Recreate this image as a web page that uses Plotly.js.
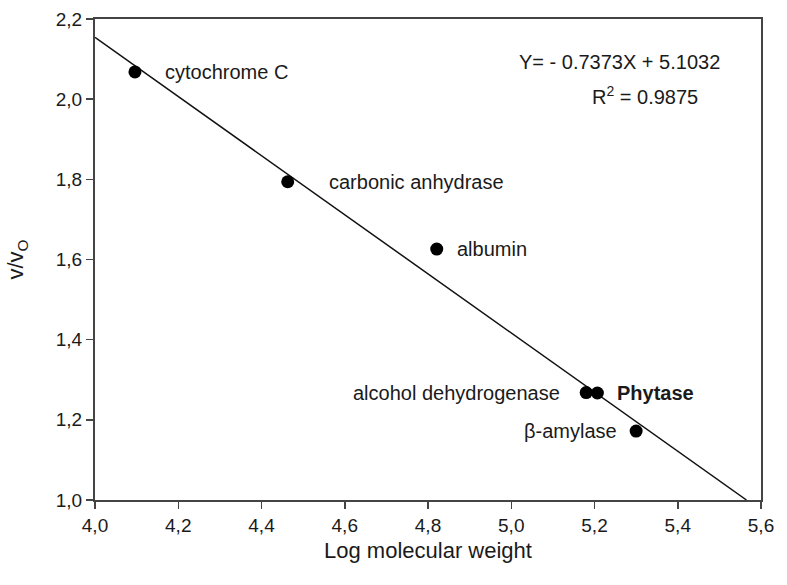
<!DOCTYPE html>
<html>
<head>
<meta charset="utf-8">
<script src="https://cdn.plot.ly/plotly-3.0.1.min.js"></script>
<style>html,body{margin:0;padding:0;background:#fff;}#chart{width:787px;height:585px;}</style>
</head>
<body>
<div id="chart"></div>
<script>
const proteins = ["cytochrome C", "carbonic anhydrase", "albumin", "alcohol dehydrogenase", "Phytase", "β-amylase"];
const logMW = [4.096, 4.463, 4.821, 5.180, 5.207, 5.300];
const vv0 = [2.068, 1.794, 1.626, 1.268, 1.267, 1.172];
const slope = -0.7373;
const intercept = 5.1032;
const r2 = 0.9875;
const fitX = [4.0, (1.0 - intercept) / slope];
const fitY = fitX.map(x => slope * x + intercept);

const FONT = 'Liberation Sans, Arial, sans-serif';
const labelSide = ["right", "right", "right", "left", "right", "left"];
const labelShift = [28, 39, 18, -24, 18, -17];

const annotations = proteins.map((p, i) => ({
  x: logMW[i], y: vv0[i], xref: 'x', yref: 'y',
  text: p === "Phytase" ? "<b>" + p + "</b>" : p,
  showarrow: false,
  xanchor: labelSide[i] === "right" ? 'left' : 'right',
  yanchor: 'middle',
  xshift: labelShift[i],
  font: {family: FONT, size: 20, color: '#1a1a1a'}
}));
annotations.push({
  xref: 'paper', yref: 'paper', x: 0.9414, y: 0.911, xanchor: 'right', yanchor: 'middle',
  text: 'Y= - ' + Math.abs(slope).toFixed(4) + 'X + ' + intercept.toFixed(4),
  showarrow: false, font: {family: FONT, size: 20, color: '#1a1a1a'}
});
annotations.push({
  xref: 'paper', yref: 'paper', x: 0.908, y: 0.84, xanchor: 'right', yanchor: 'middle',
  text: 'R<sup>2</sup> = ' + r2.toFixed(4),
  showarrow: false, font: {family: FONT, size: 20, color: '#1a1a1a'}
});

const data = [
  {x: fitX, y: fitY, mode: 'lines', line: {color: '#111', width: 1.5}, hoverinfo: 'skip'},
  {x: logMW, y: vv0, mode: 'markers', marker: {color: '#000', size: 13}, text: proteins}
];

const axisCommon = {
  showline: true, linecolor: '#444', linewidth: 2, mirror: true,
  ticks: 'outside', ticklen: 7, tickwidth: 1.5, tickcolor: '#444',
  showgrid: false, zeroline: false,
  tickfont: {family: FONT, size: 19, color: '#1a1a1a'},
  tickformat: '.1f'
};

const layout = {
  width: 787, height: 585,
  margin: {l: 95, r: 26, t: 19, b: 85},
  paper_bgcolor: '#fff', plot_bgcolor: '#fff',
  showlegend: false,
  separators: ', ',
  xaxis: Object.assign({}, axisCommon, {
    range: [4.0, 5.6], dtick: 0.2, tick0: 4.0,
    title: {text: 'Log molecular weight', standoff: 8,
      font: {family: FONT, size: 22, color: '#1a1a1a'}}
  }),
  yaxis: Object.assign({}, axisCommon, {
    range: [1.0, 2.2], dtick: 0.2, tick0: 1.0,
    title: {text: 'v/v<sub>O</sub>', standoff: 26,
      font: {family: FONT, size: 22, color: '#1a1a1a'}}
  }),
  annotations: annotations
};

Plotly.newPlot('chart', data, layout, {displayModeBar: false, staticPlot: true});
</script>
</body>
</html>
